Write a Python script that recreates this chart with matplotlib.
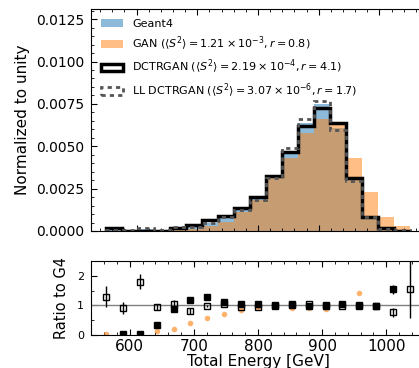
import numpy as np
import matplotlib
matplotlib.use("Agg")
import matplotlib.pyplot as plt
from matplotlib.ticker import MultipleLocator

# bin edges in GeV
edges = np.linspace(550, 1050, 20)
centers = 0.5 * (edges[1:] + edges[:-1])

# normalized histograms
g4 = [0.00005, 0.00004, 0.0001, 0.00008, 0.00022, 0.00030, 0.00050, 0.00080, 0.00130, 0.00193,
      0.00318, 0.00465, 0.00640, 0.00752, 0.00610, 0.00305, 0.00085, 0.00013, 0.00003]
gan = [0.0000025, 0.0000008, 0.000005, 0.000012, 0.000044, 0.00012, 0.00029, 0.00056, 0.0011, 0.00183,
       0.0031, 0.0043, 0.0058, 0.0066, 0.0063, 0.00428, 0.00228, 0.00083, 0.00031]
dctr = [0.00016, 0.000001, 0.000005, 0.000028, 0.00019, 0.00035, 0.00065, 0.0009, 0.00137, 0.00203,
        0.00326, 0.00468, 0.0062, 0.00725, 0.0064, 0.0031, 0.00083, 0.0002, 0.0]
ll_dctr = [0.000065, 0.000036, 0.00018, 0.000076, 0.00023, 0.00024, 0.00049, 0.00084, 0.00125, 0.00183,
           0.0031, 0.0049, 0.0066, 0.0077, 0.00595, 0.00296, 0.00083, 0.0001, 0.000047]

# ratio uncertainties
dctr_err = [0.3, 0.0, 0.05, 0.08, 0.1, 0.08, 0.05, 0.04, 0.03, 0.02,
            0.02, 0.02, 0.02, 0.02, 0.02, 0.03, 0.05, 0.15, 0.0]
ll_err = [0.35, 0.2, 0.25, 0.1, 0.15, 0.1, 0.05, 0.03, 0.03, 0.02,
          0.02, 0.02, 0.02, 0.02, 0.02, 0.03, 0.05, 0.15, 1.0]

labels = ["Geant4",
          r"GAN ($\langle S^2\rangle = 1.21 \times 10^{-3}, r = 0.8$)",
          r"DCTRGAN ($\langle S^2\rangle = 2.19 \times 10^{-4}, r = 4.1$)",
          r"LL DCTRGAN ($\langle S^2\rangle = 3.07 \times 10^{-6}, r = 1.7$)"]

W, H = 419, 368
fig = plt.figure(figsize=(W / 100, H / 100), dpi=100)
ax = fig.add_axes([91 / W, 1 - 231 / H, 334 / W, 222 / H])
rax = fig.add_axes([91 / W, 1 - 335 / H, 334 / W, 74 / H])

ax.hist(centers, bins=edges, weights=g4, histtype='bar', color='C0', alpha=0.5, label=labels[0])
ax.hist(centers, bins=edges, weights=gan, histtype='bar', color='C1', alpha=0.5, label=labels[1])
ax.hist(centers, bins=edges, weights=dctr, histtype='step', color='black', lw=2.5, label=labels[2])
ax.hist(centers, bins=edges, weights=ll_dctr, histtype='step', color='#555555', lw=2,
        ls=(0, (1.5, 1.5)), label=labels[3])

ax.set_xlim(525, 1075)
ax.set_ylim(0, 0.0131)
ax.set_ylabel("Normalized to unity", fontsize=11)
ax.yaxis.set_major_locator(MultipleLocator(0.0025))
ax.yaxis.set_minor_locator(MultipleLocator(0.0005))
ax.xaxis.set_major_locator(MultipleLocator(100))
ax.xaxis.set_minor_locator(MultipleLocator(20))
ax.yaxis.set_major_formatter(matplotlib.ticker.FormatStrFormatter('%.4f'))
ax.tick_params(labelbottom=False)
ax.tick_params(axis='y', labelsize=10)
ax.legend(loc='upper left', frameon=False, fontsize=8)

# ratio panel
g4a = np.array(g4)
dctr_a = np.array(dctr)
r_dctr = np.ma.masked_where(dctr_a == 0, dctr_a / g4a)
r_ll = np.array(ll_dctr) / g4a
r_gan = np.array(gan) / g4a
rax.axhline(1, color='gray', lw=1)
rax.errorbar(centers, r_dctr, yerr=dctr_err, fmt='s', color='black', ms=4, elinewidth=1)
rax.errorbar(centers, r_ll, yerr=ll_err, fmt='s', color='black', mfc='none', ms=4.5, elinewidth=1)
rax.plot(centers, r_gan, 'o', color='C1', alpha=0.6, ms=4, mec='none')
rax.set_xlim(539.6, 1060.4)
rax.set_ylim(0, 2.5)
rax.xaxis.set_major_locator(MultipleLocator(100))
rax.xaxis.set_minor_locator(MultipleLocator(20))
rax.yaxis.set_major_locator(MultipleLocator(1))
rax.yaxis.set_minor_locator(MultipleLocator(0.5))
rax.set_ylabel("Ratio to G4", fontsize=10.5, labelpad=6)
rax.set_xlabel("Total Energy [GeV]", fontsize=11, labelpad=0)

for a in (ax, rax):
    a.tick_params(which='both', direction='in', top=True, right=True)
    a.tick_params(which='major', length=4, pad=5)
    a.tick_params(which='minor', length=2)
rax.tick_params(axis='x', labelsize=11, pad=3)
rax.tick_params(axis='y', labelsize=8)

fig.savefig("out.png", dpi=100)
